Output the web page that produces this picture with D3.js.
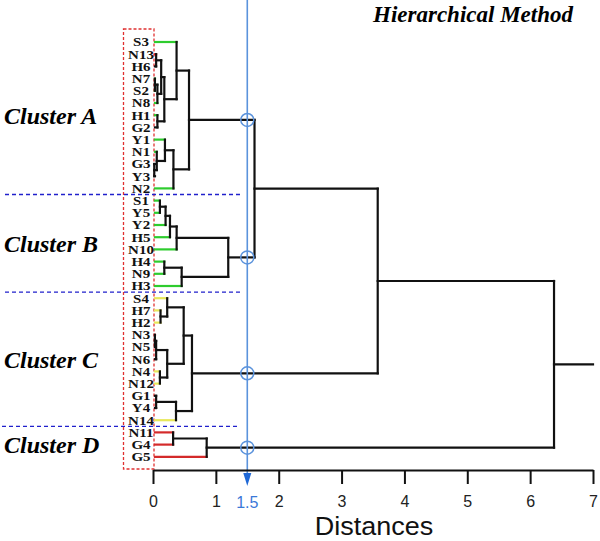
<!DOCTYPE html>
<html><head><meta charset="utf-8">
<script src="https://cdn.jsdelivr.net/npm/d3@7"></script>
<style>body{margin:0;background:#fff}</style>
</head><body>
<svg id="c" width="600" height="541"></svg>
<script>
const leaves = ["S3","N13","H6","N7","S2","N8","H1","G2","Y1","N1","G3","Y3","N2",
  "S1","Y5","Y2","H5","N10","H4","N9","H3",
  "S4","H7","H2","N3","N5","N6","N4","N12","G1","Y4","N14",
  "N11","G4","G5"];
const leafGroups = ["g","r","k","g","g","g","g","k","g","g","k","k","g",
  "g","g","g","g","g","g","g","g",
  "y","y","y","r","r","k","y","y","k","k","y",
  "r","r","r"];
// [node, childA, childB, distance]
const merges = [
  ["a1","N13","H6",0.05],
  ["a2","N7","S2",0.03],
  ["a3","a2","N8",0.07],
  ["a4","a1","a3",0.13],
  ["a5","H1","G2",0.07],
  ["a6","a4","a5",0.18],
  ["a7","S3","a6",0.375],
  ["b1","G3","Y3",0.02],
  ["b2","N1","b1",0.06],
  ["b3","Y1","b2",0.19],
  ["b4","b3","N2",0.325],
  ["A","a7","b4",0.573],
  ["c1","S1","Y5",0.11],
  ["c2","c1","Y2",0.2],
  ["c3","c2","H5",0.27],
  ["c4","c3","N10",0.376],
  ["c5","H4","N9",0.18],
  ["c6","c5","H3",0.456],
  ["B","c4","c6",1.197],
  ["d1","H7","H2",0.12],
  ["d2","S4","d1",0.226],
  ["d3","N3","N5",0.03],
  ["d4","d3","N6",0.05],
  ["d5","N4","N12",0.11],
  ["d6","d4","d5",0.226],
  ["d7","d2","d6",0.488],
  ["d8","G1","Y4",0.05],
  ["d9","d8","N14",0.366],
  ["C","d7","d9",0.62],
  ["e1","N11","G4",0.32],
  ["D","e1","G5",0.854],
  ["AB","A","B",1.615],
  ["ABC","AB","C",3.575],
  ["root","ABC","D",6.38]
];
const rootStubEnd = 7;
const clusterNames = ["Cluster A","Cluster B","Cluster C","Cluster D"];
const clusterNodes = ["A","B","C","D"];
const clusterFirst = ["S3","S1","S4","N11"];
const clusterLast = ["N2","H3","N14","G5"];
const cutDistance = 1.5;
const xTicks = [0,1,2,3,4,5,6,7];
const title = "Hierarchical Method";
const xLabel = "Distances";

const groupColor = {g:"#2ecc2e", r:"#d42a2a", y:"#e8e85a", k:"#111"};
const serif = "'Liberation Serif','Times New Roman',serif";
const sans = "'Liberation Sans',Arial,sans-serif";

const svg = d3.select("#c");
const x = d3.scaleLinear().domain([0,7]).range([153,593]);
const y = d3.scalePoint().domain(leaves).range([42,456.8]);

const nodes = {};
leaves.forEach((l,i)=>{ nodes[l] = {y:y(l), h:0, leaf:true, color:groupColor[leafGroups[i]]}; });
merges.forEach(([id,a,b,h])=>{ nodes[id] = {y:(nodes[a].y+nodes[b].y)/2, h:h, leaf:false, color:groupColor.k}; });

// red dashed box around leaf labels
svg.append("rect").attr("x",123.5).attr("y",29).attr("width",30.5).attr("height",440)
  .attr("fill","none").attr("stroke","#e03030").attr("stroke-width",1.3).attr("stroke-dasharray","3,2");

// cluster separators
const sepEnds = [243,243,238];
for (let i=0;i<clusterLast.length-1;i++){
  const yy = (y(clusterLast[i]) + y(clusterFirst[i+1]))/2;
  svg.append("line").attr("x1",i===2?2:5).attr("x2",sepEnds[i]).attr("y1",yy).attr("y2",yy)
    .attr("stroke","#2020cc").attr("stroke-width",1.3).attr("stroke-dasharray","4,3");
}

// dendrogram
const g = svg.append("g").attr("fill","none").attr("stroke-linecap","square");
merges.forEach(([id,a,b,h])=>{
  [a,b].forEach(c=>{
    const cn = nodes[c];
    g.append("line").attr("x1",x(cn.h)+(cn.leaf?2:0)).attr("x2",x(h)).attr("y1",cn.y).attr("y2",cn.y)
      .attr("stroke",cn.color).attr("stroke-width",2.2);
  });
  g.append("line").attr("x1",x(h)).attr("x2",x(h)).attr("y1",nodes[a].y).attr("y2",nodes[b].y)
    .attr("stroke",groupColor.k).attr("stroke-width",2.2);
});
g.append("line").attr("x1",x(nodes.root.h)).attr("x2",x(rootStubEnd)).attr("y1",nodes.root.y).attr("y2",nodes.root.y)
  .attr("stroke",groupColor.k).attr("stroke-width",2.2);

// leaf labels
svg.append("g").selectAll("text").data(leaves).join("text")
  .attr("transform",d=>`translate(141,${y(d)+4.3}) scale(1.2,1)`)
  .attr("text-anchor","middle")
  .attr("font-family",serif).attr("font-weight","bold").attr("font-size",12.5).attr("fill","#111")
  .text(d=>d);

// cluster labels
clusterNames.forEach((name,i)=>{
  const cy = (y(clusterFirst[i])+y(clusterLast[i]))/2;
  svg.append("text").attr("x",4).attr("y",cy+8.5)
    .attr("font-family",serif).attr("font-weight","bold").attr("font-style","italic")
    .attr("font-size",24).attr("fill","#000").text(name);
});

// cut line
const cx = x(cutDistance);
svg.append("line").attr("x1",cx).attr("x2",cx).attr("y1",0).attr("y2",476)
  .attr("stroke","#5b93dc").attr("stroke-width",1.6);
svg.append("path").attr("d",`M${cx-4},${473}L${cx+4},${473}L${cx},${486}Z`).attr("fill","#1f68d6");
clusterNodes.forEach(c=>{
  svg.append("circle").attr("cx",cx).attr("cy",nodes[c].y).attr("r",6.5)
    .attr("fill","none").attr("stroke","#5b93dc").attr("stroke-width",1.5);
});

// axis
const ax = svg.append("g").attr("transform","translate(0,470)")
  .call(d3.axisBottom(x).tickValues(xTicks).tickSize(14).tickSizeOuter(0).tickPadding(12).tickFormat(d3.format("d")));
ax.select(".domain").attr("stroke","#111").attr("stroke-width",2);
ax.selectAll(".tick line").attr("stroke","#111").attr("stroke-width",2);
ax.selectAll(".tick text").attr("font-family",sans).attr("font-size",16).attr("fill","#222");

svg.append("text").attr("x",cx).attr("y",507.7).attr("text-anchor","middle")
  .attr("font-family",sans).attr("font-size",16).attr("fill","#3a78d8").text(cutDistance);

svg.append("text").attr("transform","translate(374,535) scale(1.08,1)").attr("text-anchor","middle")
  .attr("font-family",sans).attr("font-size",25).attr("fill","#111").text(xLabel);

svg.append("text").attr("x",573).attr("y",22).attr("text-anchor","end")
  .attr("font-family",serif).attr("font-weight","bold").attr("font-style","italic")
  .attr("font-size",23).attr("fill","#000").text(title);
</script>
</body></html>
